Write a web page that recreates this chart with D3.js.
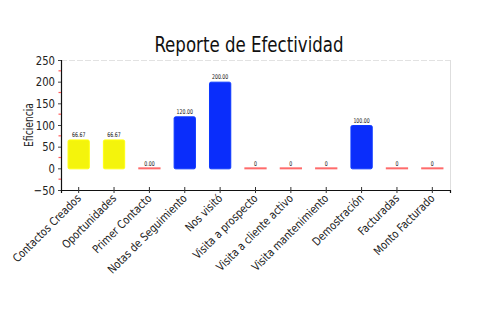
<!DOCTYPE html>
<html>
<head>
<meta charset="utf-8">
<script src="https://cdn.jsdelivr.net/npm/d3@7"></script>
<style>
  html, body { margin: 0; padding: 0; background: #fff; }
  svg { display: block; font-family: "DejaVu Sans Condensed", "Liberation Sans", sans-serif; }
</style>
</head>
<body>
<svg id="chart" width="500" height="330"></svg>
<script>
// Categories, values and their printed labels
const categories = ["Contactos Creados", "Oportunidades", "Primer Contacto", "Notas de Seguimiento",
  "Nos visitó", "Visita a prospecto", "Visita a cliente activo", "Visita mantenimiento",
  "Demostración", "Facturadas", "Monto Facturado"];
const values = [66.67, 66.67, 0, 120, 200, 0, 0, 0, 100, 0, 0];
const valueLabels = ["66.67", "66.67", "0.00", "120.00", "200.00", "0", "0", "0", "100.00", "0", "0"];
const barColors = ["#f4f40c", "#f4f40c", "#ff6b6b", "#0a2dfb", "#0a2dfb", "#ff6b6b", "#ff6b6b",
  "#ff6b6b", "#0a2dfb", "#ff6b6b", "#ff6b6b"];
const yTicks = [-50, 0, 50, 100, 150, 200, 250];
const yMinorTicks = [-25, 25, 75, 125, 175, 225];

const svg = d3.select("#chart");
const mLeft = 61, mRight = 450, mTop = 60, mBottom = 190;

// narrow a text's glyphs horizontally by factor k
function squeeze(sel, k) {
  sel.each(function () {
    const w = this.getComputedTextLength();
    d3.select(this).attr("textLength", w * k).attr("lengthAdjust", "spacingAndGlyphs");
  });
}

const x = d3.scaleBand().domain(categories).range([mLeft, mRight]).paddingInner(0.37).paddingOuter(0.185);
const y = d3.scaleLinear().domain([-50, 250]).range([mBottom, mTop]);

// plot frame: dashed top line and light right border
svg.append("line").attr("x1", mLeft).attr("x2", mRight).attr("y1", mTop + 0.5).attr("y2", mTop + 0.5)
  .attr("stroke", "#e2e2e2").attr("stroke-dasharray", "6,2");
svg.append("line").attr("x1", mRight + 0.5).attr("x2", mRight + 0.5).attr("y1", mTop).attr("y2", mBottom)
  .attr("stroke", "#dedede");

// title
const title = svg.append("text").attr("x", 249).attr("y", 51.5).attr("text-anchor", "middle")
  .attr("font-size", 21).attr("fill", "#111").text("Reporte de Efectividad");
squeeze(title, 0.88);

// y axis title
const yTitle = svg.append("text").attr("transform", "translate(33,125) rotate(-90)").attr("text-anchor", "middle")
  .attr("font-size", 12).attr("fill", "#222").text("Eficiencia");
squeeze(yTitle, 0.85);

// bars
const g = svg.append("g");
categories.forEach((c, i) => {
  const v = values[i];
  if (v === 0) {
    g.append("rect").attr("x", x(c)).attr("y", y(0) - 1).attr("width", x.bandwidth()).attr("height", 2)
      .attr("fill", barColors[i]);
  } else {
    g.append("rect").attr("x", x(c) + 0.5).attr("y", y(v) + 0.5)
      .attr("width", x.bandwidth() - 1).attr("height", y(0) - y(v))
      .attr("rx", 1.5).attr("fill", barColors[i])
      .attr("stroke", d3.color(barColors[i]).brighter(0.6)).attr("stroke-width", 1);
  }
  const lbl = g.append("text").attr("x", x(c) + x.bandwidth() / 2).attr("y", y(v) - 2.5)
    .attr("text-anchor", "middle").attr("font-size", 6.5).attr("fill", "#111").text(valueLabels[i]);
  squeeze(lbl, 0.8);
});

// y axis
const yAxis = svg.append("g").attr("transform", `translate(${mLeft},0)`)
  .call(d3.axisLeft(y).tickValues(yTicks).tickSize(3).tickPadding(3));
yAxis.select(".domain").attr("stroke", "#111").attr("stroke-width", 1.2);
yAxis.selectAll(".tick line").attr("stroke", "#444");
yAxis.selectAll(".tick text").attr("font-size", 13).attr("fill", "#222")
  .attr("font-family", "DejaVu Sans Condensed, sans-serif");
squeeze(yAxis.selectAll(".tick text"), 0.86);
yAxis.selectAll(".minor").data(yMinorTicks).enter().append("line")
  .attr("x1", -2.5).attr("x2", 0).attr("y1", d => y(d)).attr("y2", d => y(d))
  .attr("stroke", "#ff5a5a").attr("stroke-width", 1.2);

// x axis
const xAxis = svg.append("g").attr("transform", `translate(0,${mBottom})`)
  .call(d3.axisBottom(x).tickSizeOuter(0).tickSize(3).tickPadding(4));
xAxis.select(".domain").attr("stroke", "#111").attr("stroke-width", 1.2);
xAxis.selectAll(".tick line").attr("y1", -3).attr("y2", 3).attr("stroke", "#333");
xAxis.selectAll(".tick text")
  .attr("font-size", 11.5).attr("fill", "#222").attr("text-anchor", "end")
  .attr("font-family", "DejaVu Sans Condensed, sans-serif")
  .attr("dy", 0).attr("y", 0)
  .attr("transform", "translate(3,9) rotate(-45)");
squeeze(xAxis.selectAll(".tick text"), 0.93);
</script>
</body>
</html>
